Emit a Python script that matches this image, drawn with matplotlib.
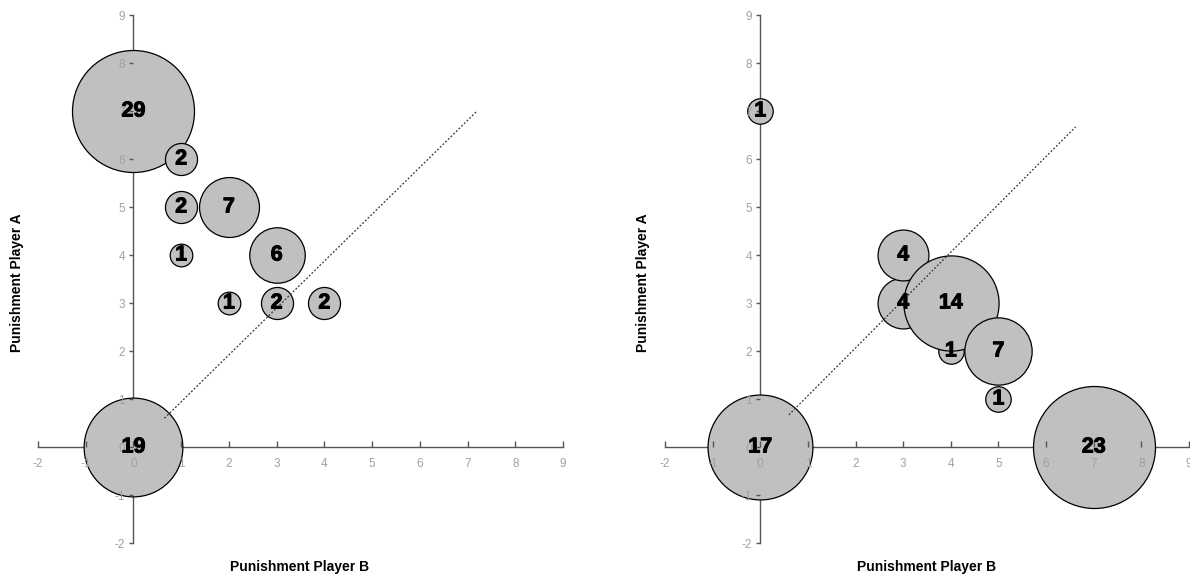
import matplotlib
matplotlib.use("Agg")
import matplotlib.pyplot as plt
import matplotlib.patheffects as pe

plt.rcParams['font.family'] = ['Liberation Sans', 'DejaVu Sans']
plt.rcParams['axes.unicode_minus'] = False

# ---- data ----
left_b = [0, 0, 1, 1, 1, 2, 2, 3, 3, 4]
left_a = [0, 7, 4, 5, 6, 3, 5, 3, 4, 3]
left_n = [19, 29, 1, 2, 2, 1, 7, 2, 6, 2]

right_b = [0, 0, 3, 3, 4, 4, 5, 5, 7]
right_a = [0, 7, 3, 4, 2, 3, 1, 2, 0]
right_n = [17, 1, 4, 4, 1, 14, 1, 7, 23]

left_diag_x = [0.65, 7.2]
left_diag_y = [0.6, 7.0]
right_diag_x = [0.6, 6.62]
right_diag_y = [0.67, 6.67]

x_ticks = list(range(-2, 10))
y_ticks = list(range(-2, 10))

DPI = 100
fig = plt.figure(figsize=(11.9, 5.76), dpi=DPI)

W, H = 1190, 576
def axes_rect(x0, x1, ytop=15, ybot=543):
    return [x0 / W, (H - ybot) / H, (x1 - x0) / W, (ybot - ytop) / H]

max_d_px = 122

def draw(rect, bx, ay, n, dx, dy):
    ax = fig.add_axes(rect)
    ax.set_xlim(-2, 9)
    ax.set_ylim(-2, 9)
    for s in ['top', 'right']:
        ax.spines[s].set_visible(False)
    for s in ['left', 'bottom']:
        ax.spines[s].set_position(('data', 0))
        ax.spines[s].set_color('#555555')
        ax.spines[s].set_linewidth(1.0)
        ax.spines[s].set_zorder(0.5)
    ax.set_xticks(x_ticks)
    ax.set_yticks(y_ticks)
    ax.tick_params(axis='x', direction='in', length=4, width=1, color='#555555',
                   labelcolor='#a0a0a0', labelsize=8.5, pad=8)
    ax.tick_params(axis='y', direction='out', length=3, width=1, color='#555555',
                   labelcolor='#a0a0a0', labelsize=8.5, pad=3)
    nmax = max(n)
    sizes = [(0.72 * max_d_px) ** 2 * v / nmax for v in n]
    for xi, yi, si in zip(bx, ay, sizes):
        ax.scatter([xi], [yi], s=si, c='#c0c0c0', edgecolors='black',
                   linewidths=0.9, zorder=1, clip_on=False)
    ax.plot(dx, dy, linestyle=(0, (1.5, 1.5)), color='#333333', linewidth=0.9,
            zorder=3)
    for xi, yi, v in zip(bx, ay, n):
        ax.text(xi, yi, str(v), ha='center', va='center', fontsize=15.5,
                fontweight='bold', color='black', zorder=4,
                path_effects=[pe.withStroke(linewidth=0.7, foreground='black')])
    ax.patch.set_visible(False)
    return ax

draw(axes_rect(38, 563), left_b, left_a, left_n, left_diag_x, left_diag_y)
draw(axes_rect(665, 1189), right_b, right_a, right_n, right_diag_x, right_diag_y)

fig.text(300 / W, 1 - 567 / H, 'Punishment Player B', ha='center', va='center',
         fontsize=10, fontweight='bold')
fig.text(927 / W, 1 - 567 / H, 'Punishment Player B', ha='center', va='center',
         fontsize=10, fontweight='bold')
fig.text(17 / W, 1 - 283 / H, 'Punishment Player A', ha='center', va='center',
         fontsize=10, fontweight='bold', rotation=90)
fig.text(643 / W, 1 - 283 / H, 'Punishment Player A', ha='center', va='center',
         fontsize=10, fontweight='bold', rotation=90)

fig.savefig('out.png', dpi=DPI)
